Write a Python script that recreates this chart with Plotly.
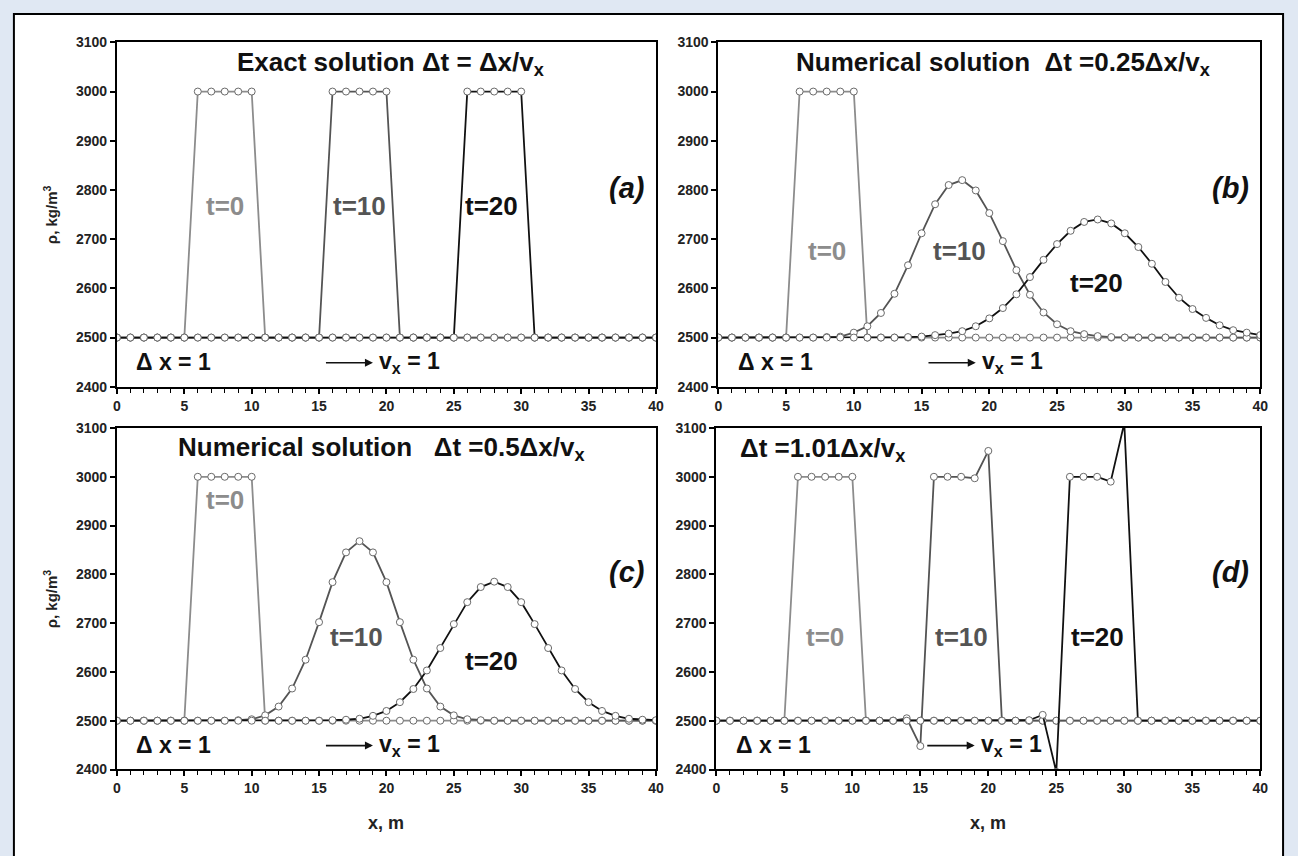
import plotly.graph_objects as go

# ---------------- data ----------------
x_m = list(range(41))

# initial square pulse (t=0 in every panel)
rho_t0 = [2500, 2500, 2500, 2500, 2500, 2500, 3000, 3000, 3000, 3000, 3000,
          2500, 2500, 2500, 2500, 2500, 2500, 2500, 2500, 2500, 2500, 2500,
          2500, 2500, 2500, 2500, 2500, 2500, 2500, 2500, 2500, 2500, 2500,
          2500, 2500, 2500, 2500, 2500, 2500, 2500, 2500]

# (a) exact solution
exact_t10 = [2500, 2500, 2500, 2500, 2500, 2500, 2500, 2500, 2500, 2500, 2500,
             2500, 2500, 2500, 2500, 2500, 3000, 3000, 3000, 3000, 3000,
             2500, 2500, 2500, 2500, 2500, 2500, 2500, 2500, 2500, 2500,
             2500, 2500, 2500, 2500, 2500, 2500, 2500, 2500, 2500, 2500]
exact_t20 = [2500, 2500, 2500, 2500, 2500, 2500, 2500, 2500, 2500, 2500, 2500,
             2500, 2500, 2500, 2500, 2500, 2500, 2500, 2500, 2500, 2500,
             2500, 2500, 2500, 2500, 2500, 3000, 3000, 3000, 3000, 3000,
             2500, 2500, 2500, 2500, 2500, 2500, 2500, 2500, 2500, 2500]

# (b) numerical, dt = 0.25 dx/vx
b_t10 = [2500, 2500, 2500, 2500, 2500, 2500, 2500, 2500, 2501, 2502, 2510,
         2523, 2550, 2589, 2647, 2712, 2771, 2810, 2820, 2799, 2753,
         2696, 2637, 2587, 2551, 2527, 2513, 2507, 2503, 2501, 2500,
         2500, 2500, 2500, 2500, 2500, 2500, 2500, 2500, 2500, 2500]
b_t20 = [2500, 2500, 2500, 2500, 2500, 2500, 2500, 2500, 2500, 2500, 2500,
         2500, 2500, 2500, 2501, 2502, 2505, 2508, 2513, 2523, 2539,
         2560, 2588, 2623, 2658, 2690, 2717, 2735, 2740, 2732, 2712,
         2684, 2650, 2613, 2581, 2558, 2540, 2525, 2515, 2510, 2505]

# (c) numerical, dt = 0.5 dx/vx
c_t10 = [2500, 2500, 2500, 2500, 2500, 2500, 2500, 2500, 2500, 2501, 2503,
         2511, 2529, 2566, 2625, 2702, 2784, 2845, 2868, 2845, 2784,
         2702, 2625, 2566, 2529, 2511, 2503, 2501, 2500, 2500, 2500,
         2500, 2500, 2500, 2500, 2500, 2500, 2500, 2500, 2500, 2500]
c_t20 = [2500, 2500, 2500, 2500, 2500, 2500, 2500, 2500, 2500, 2500, 2500,
         2500, 2500, 2500, 2500, 2500, 2501, 2502, 2504, 2510, 2520,
         2538, 2565, 2603, 2649, 2698, 2743, 2774, 2785, 2774, 2743,
         2698, 2649, 2603, 2565, 2538, 2520, 2510, 2504, 2502, 2501]

# (d) numerical, dt = 1.01 dx/vx
d_t10 = [2500, 2500, 2500, 2500, 2500, 2500, 2500, 2500, 2500, 2500, 2500,
         2500, 2500, 2500, 2505, 2448, 3000, 3000, 3000, 2997, 3053,
         2500, 2500, 2500, 2500, 2500, 2500, 2500, 2500, 2500, 2500,
         2500, 2500, 2500, 2500, 2500, 2500, 2500, 2500, 2500, 2500]
d_t20 = [2500, 2500, 2500, 2500, 2500, 2500, 2500, 2500, 2500, 2500, 2500,
         2500, 2500, 2500, 2500, 2500, 2500, 2500, 2500, 2500, 2500,
         2500, 2500, 2501, 2512, 2395, 3000, 3000, 3000, 2990, 3110,
         2500, 2500, 2500, 2500, 2500, 2500, 2500, 2500, 2500, 2500]

x_ticks = [0, 5, 10, 15, 20, 25, 30, 35, 40]
y_ticks = [2400, 2500, 2600, 2700, 2800, 2900, 3000, 3100]

# ---------------- styling ----------------
W, H = 1298, 856
FONT = "Liberation Sans"
C0, C10, C20 = "#8c8c8c", "#545454", "#111111"

def px(v):
    return v / W

def py(v):
    return 1 - v / H

# pixel boxes of the four plot areas: (left, right, top, bottom)
boxes = [
    (114, 658, 35, 386),
    (721, 1268, 35, 386),
    (114, 658, 428, 776),
    (719, 1268, 428, 776),
]

panels = [
    dict(series=[rho_t0, exact_t10, exact_t20],
         title="Exact solution \u0394t = \u0394x/v<sub>x</sub>", tpos=(20.3, 3058), tanchor="center",
         letter="(a)", labels=[(8, 2768), (18, 2768), (27.8, 2768)]),
    dict(series=[rho_t0, b_t10, b_t20],
         title="Numerical solution \u00a0\u0394t =0.25\u0394x/v<sub>x</sub>", tpos=(21.0, 3058), tanchor="center",
         letter="(b)", labels=[(8, 2676), (17.8, 2676), (27.9, 2610)]),
    dict(series=[rho_t0, c_t10, c_t20],
         title="Numerical solution \u00a0\u00a0\u0394t =0.5\u0394x/v<sub>x</sub>", tpos=(19.6, 3058), tanchor="center",
         letter="(c)", labels=[(8, 2952), (17.8, 2672), (27.8, 2622)]),
    dict(series=[rho_t0, d_t10, d_t20],
         title="\u0394t =1.01\u0394x/v<sub>x</sub>", tpos=(1.6, 3055), tanchor="left",
         letter="(d)", labels=[(8, 2672), (18, 2672), (28, 2672)]),
]

fig = go.Figure()
annotations = []
colors = [C0, C10, C20]
tlabels = ["t=0", "t=10", "t=20"]

for i, (p, box) in enumerate(zip(panels, boxes)):
    n = "" if i == 0 else str(i + 1)
    xa, ya = "x" + n, "y" + n
    for s, col in zip(p["series"], colors):
        fig.add_trace(go.Scatter(
            x=x_m, y=s, xaxis=xa, yaxis=ya, mode="lines+markers",
            line=dict(color=col, width=1.8),
            marker=dict(size=7, color="white", line=dict(color="#6a6a6a", width=1)),
            showlegend=False, hoverinfo="skip"))
    l, r, t, b = box
    fig.layout["xaxis" + n] = dict(
        domain=[px(l), px(r)], anchor=ya, range=[0, 40],
        tickmode="array", tickvals=x_ticks, ticktext=[str(v) for v in x_ticks],
        ticks="outside", ticklen=5, tickwidth=1.5, tickcolor="black",
        minor=dict(dtick=1, tick0=0, ticks="outside", ticklen=4, tickwidth=1.3,
                   tickcolor="black", showgrid=False),
        showline=True, linewidth=2, linecolor="black", mirror=True,
        showgrid=False, zeroline=False,
        tickfont=dict(family=FONT, size=14, color="#222", weight="bold"))
    fig.layout["yaxis" + n] = dict(
        domain=[py(b), py(t)], anchor=xa, range=[2400, 3100],
        tickmode="array", tickvals=y_ticks, ticktext=[str(v) for v in y_ticks],
        ticks="outside", ticklen=5, tickwidth=1.5, tickcolor="black",
        showline=True, linewidth=2, linecolor="black", mirror=True,
        showgrid=False, zeroline=False,
        tickfont=dict(family=FONT, size=14, color="#222", weight="bold"))

    # title text inside the panel
    annotations.append(dict(
        xref=xa, yref=ya, x=p["tpos"][0], y=p["tpos"][1], text=p["title"],
        showarrow=False, xanchor=p["tanchor"], yanchor="middle",
        font=dict(family=FONT, size=26, color="#111", weight="bold")))
    # panel letter
    annotations.append(dict(
        xref=xa, yref=ya, x=37.8, y=2805, text="<i>" + p["letter"] + "</i>",
        showarrow=False, xanchor="center", yanchor="middle",
        font=dict(family=FONT, size=29, color="#111", weight="bold")))
    # time labels
    for (lx, ly), lab, col in zip(p["labels"], tlabels, colors):
        annotations.append(dict(
            xref=xa, yref=ya, x=lx, y=ly, text=lab, showarrow=False,
            xanchor="center", yanchor="middle",
            font=dict(family=FONT, size=26, color=col, weight="bold")))
    # Δx = 1
    annotations.append(dict(
        xref=xa, yref=ya, x=1.3, y=2450, text="\u0394\u00a0x = 1", showarrow=False,
        xanchor="left", yanchor="middle",
        font=dict(family=FONT, size=23, color="#111", weight="bold")))
    # arrow and v_x = 1
    annotations.append(dict(
        xref=xa, yref=ya, axref=xa, ayref=ya, x=19.0, y=2449, ax=15.4, ay=2449,
        text="", showarrow=True, arrowhead=2, arrowsize=1, arrowwidth=1.6,
        arrowcolor="#111"))
    annotations.append(dict(
        xref=xa, yref=ya, x=19.3, y=2450, text="v<sub>x</sub> = 1", showarrow=False,
        xanchor="left", yanchor="middle",
        font=dict(family=FONT, size=23, color="#111", weight="bold")))

# axis titles
for cy in [(35 + 386) / 2, (428 + 776) / 2]:
    annotations.append(dict(
        xref="paper", yref="paper", x=px(47), y=py(cy), text="\u03c1, kg/m<sup>3</sup>",
        showarrow=False, textangle=-90, xanchor="center", yanchor="middle",
        font=dict(family=FONT, size=15, color="#222", weight="bold")))
for cx in [(114 + 658) / 2, (719 + 1268) / 2]:
    annotations.append(dict(
        xref="paper", yref="paper", x=px(cx), y=py(831), text="x, m",
        showarrow=False, xanchor="center", yanchor="middle",
        font=dict(family=FONT, size=18, color="#222", weight="bold")))

fig.update_layout(
    width=W, height=H, margin=dict(l=0, r=0, t=0, b=0),
    paper_bgcolor="#e0e8f3", plot_bgcolor="white",
    annotations=annotations,
    shapes=[dict(type="rect", xref="paper", yref="paper", layer="below",
                 x0=px(10), x1=px(1291), y0=-0.05, y1=py(6),
                 fillcolor="white", line=dict(color="black", width=2))],
)

fig.write_html("out.html")
